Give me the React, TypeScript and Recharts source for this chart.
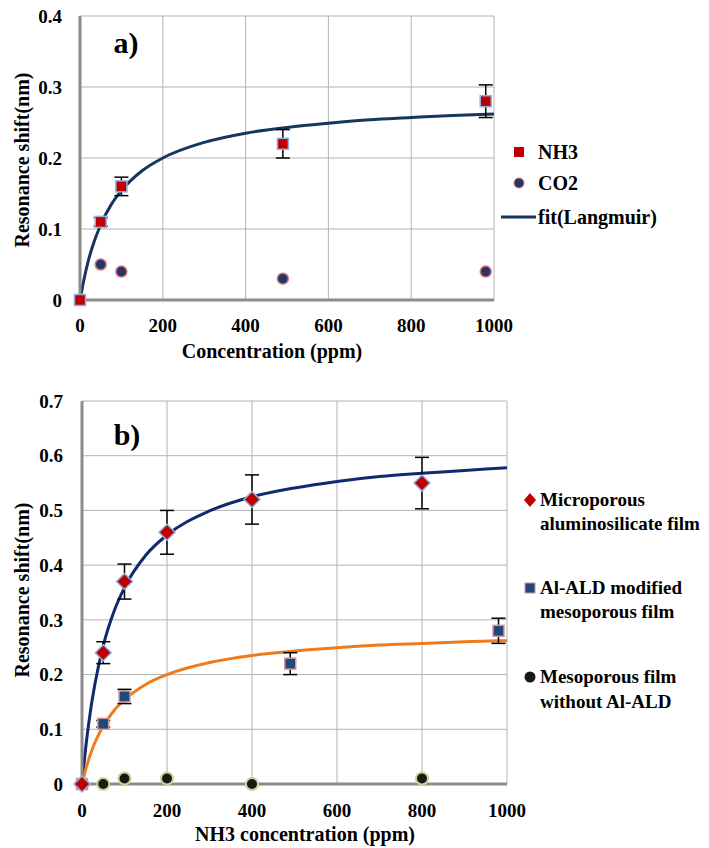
import React from 'react';
import {
  ComposedChart,
  Line,
  Scatter,
  ErrorBar,
  XAxis,
  YAxis,
  CartesianGrid,
} from 'recharts';

// panel a) NH3 vs CO2
const nh3A = [
  { x: 0, y: 0, err: null },
  { x: 50, y: 0.11, err: 0.006 },
  { x: 100, y: 0.16, err: 0.013 },
  { x: 490, y: 0.22, err: 0.02 },
  { x: 980, y: 0.28, err: 0.023 },
];
const co2A = [
  { x: 0, y: 0 },
  { x: 50, y: 0.05 },
  { x: 100, y: 0.04 },
  { x: 490, y: 0.03 },
  { x: 980, y: 0.04 },
];
// Langmuir fit
const fitA = [
  { x: 0, y: 0 },
  { x: 10, y: 0.03 },
  { x: 20, y: 0.055 },
  { x: 30, y: 0.075 },
  { x: 50, y: 0.106 },
  { x: 75, y: 0.134 },
  { x: 100, y: 0.154 },
  { x: 150, y: 0.182 },
  { x: 200, y: 0.2 },
  { x: 300, y: 0.222 },
  { x: 400, y: 0.235 },
  { x: 500, y: 0.243 },
  { x: 600, y: 0.249 },
  { x: 700, y: 0.254 },
  { x: 800, y: 0.257 },
  { x: 900, y: 0.26 },
  { x: 1000, y: 0.262 },
];

// panel b) three films
const microB = [
  { x: 0, y: 0, err: null },
  { x: 50, y: 0.24, err: 0.02 },
  { x: 100, y: 0.37, err: 0.032 },
  { x: 200, y: 0.46, err: 0.04 },
  { x: 400, y: 0.52, err: 0.045 },
  { x: 800, y: 0.55, err: 0.047 },
];
const aldB = [
  { x: 0, y: 0, err: null },
  { x: 50, y: 0.11, err: 0.006 },
  { x: 100, y: 0.16, err: 0.013 },
  { x: 490, y: 0.22, err: 0.02 },
  { x: 980, y: 0.28, err: 0.023 },
];
const mesoB = [
  { x: 0, y: 0 },
  { x: 50, y: 0 },
  { x: 100, y: 0.01 },
  { x: 200, y: 0.01 },
  { x: 400, y: 0 },
  { x: 800, y: 0.01 },
];
const fitMicroB = [
  { x: 0, y: 0 },
  { x: 10, y: 0.075 },
  { x: 20, y: 0.134 },
  { x: 30, y: 0.181 },
  { x: 50, y: 0.253 },
  { x: 75, y: 0.315 },
  { x: 100, y: 0.359 },
  { x: 150, y: 0.418 },
  { x: 200, y: 0.455 },
  { x: 300, y: 0.499 },
  { x: 400, y: 0.525 },
  { x: 500, y: 0.541 },
  { x: 600, y: 0.553 },
  { x: 700, y: 0.562 },
  { x: 800, y: 0.568 },
  { x: 900, y: 0.573 },
  { x: 1000, y: 0.578 },
];
const fitAldB = fitA;

const xTicks = [0, 200, 400, 600, 800, 1000];
const yTicksA = [0, 0.1, 0.2, 0.3, 0.4];
const yTicksB = [0, 0.1, 0.2, 0.3, 0.4, 0.5, 0.6, 0.7];

const FONT = 'Liberation Serif';
const tickStyle = { fontSize: 19, fontWeight: 'bold', fill: '#000', fontFamily: FONT };
const axisLine = { stroke: '#8c8c8c', strokeWidth: 3 };
const fmt = (v: number) => (v === 0 ? '0' : String(v));

const RedSquare = (p: any) => (
  <rect x={p.cx - 5.5} y={p.cy - 5.5} width={11} height={11} fill="#c00000" stroke="#8db3e2" strokeWidth={1.5} />
);
const NavyCircle = (p: any) => (
  <circle cx={p.cx} cy={p.cy} r={5.5} fill="#1f3864" stroke="#e0707a" strokeWidth={1.5} />
);
const RedDiamond = (p: any) => (
  <polygon
    points={`${p.cx},${p.cy - 8} ${p.cx + 8},${p.cy} ${p.cx},${p.cy + 8} ${p.cx - 8},${p.cy}`}
    fill="#c00000"
    stroke="#8db3e2"
    strokeWidth={1.5}
  />
);
const BlueSquare = (p: any) => (
  <rect x={p.cx - 5.5} y={p.cy - 5.5} width={11} height={11} fill="#1f497d" stroke="#d99694" strokeWidth={1.5} />
);
const DarkCircle = (p: any) => (
  <circle cx={p.cx} cy={p.cy} r={6} fill="#1a1a14" stroke="#c3d69b" strokeWidth={2} />
);

const abs = (left: number, top: number, extra: React.CSSProperties = {}): React.CSSProperties => ({
  position: 'absolute',
  left,
  top,
  transform: 'translate(-50%, -50%)',
  whiteSpace: 'nowrap',
  fontWeight: 'bold',
  fontFamily: FONT,
  color: '#000',
  ...extra,
});

const legendText: React.CSSProperties = {
  position: 'absolute',
  whiteSpace: 'nowrap',
  fontWeight: 'bold',
  fontFamily: FONT,
  fontSize: 20,
  lineHeight: '24px',
  color: '#000',
};

const App = () => {
  return (
    <div style={{ position: 'absolute', left: 0, top: 0, width: 709, height: 848, background: '#fff', fontFamily: FONT }}>
      {/* a) */}
      <div style={{ position: 'absolute', left: 0, top: 0 }}>
        <ComposedChart width={709} height={380} margin={{ top: 16, right: 215, bottom: 0, left: 0 }}>
          <CartesianGrid stroke="#b3b3b3" />
          <XAxis
            dataKey="x"
            type="number"
            domain={[0, 1000]}
            ticks={xTicks}
            height={80}
            tickLine={false}
            tickMargin={13}
            axisLine={axisLine}
            tick={tickStyle}
          />
          <YAxis
            dataKey="y"
            type="number"
            domain={[0, 0.4]}
            ticks={yTicksA}
            width={80}
            tickLine={false}
            tickMargin={12}
            axisLine={axisLine}
            tick={tickStyle}
            tickFormatter={fmt}
          />
          <Line data={fitA} dataKey="y" type="monotone" dot={false} stroke="#17365d" strokeWidth={3} isAnimationActive={false} />
          <Scatter data={co2A} dataKey="y" shape={NavyCircle} isAnimationActive={false} />
          <Scatter data={nh3A} dataKey="y" shape={RedSquare} isAnimationActive={false}>
            <ErrorBar dataKey="err" direction="y" width={7} stroke="#000" strokeWidth={1.5} />
          </Scatter>
        </ComposedChart>
      </div>
      <div style={abs(126, 43, { fontSize: 30 })}>a)</div>
      <div style={abs(22, 160, { fontSize: 20, transform: 'translate(-50%, -50%) rotate(-90deg)' })}>Resonance shift(nm)</div>
      <div style={abs(272, 351, { fontSize: 20 })}>Concentration (ppm)</div>

      {/* legend a */}
      <svg style={{ position: 'absolute', left: 498, top: 140 }} width={40} height={90}>
        <rect x={16} y={7} width={10} height={10} fill="#c00000" />
        <circle cx={21} cy={43} r={5} fill="#1f3864" stroke="#e0707a" strokeWidth={1} />
        <line x1={3} y1={77} x2={38} y2={77} stroke="#17365d" strokeWidth={3} />
      </svg>
      <div style={{ ...legendText, left: 538, top: 140 }}>NH3</div>
      <div style={{ ...legendText, left: 538, top: 171 }}>CO2</div>
      <div style={{ ...legendText, left: 538, top: 205 }}>fit(Langmuir)</div>

      {/* b) */}
      <div style={{ position: 'absolute', left: 0, top: 380 }}>
        <ComposedChart width={709} height={468} margin={{ top: 21, right: 202, bottom: 0, left: 0 }}>
          <CartesianGrid stroke="#b3b3b3" />
          <XAxis
            dataKey="x"
            type="number"
            domain={[0, 1000]}
            ticks={xTicks}
            height={64}
            tickLine={false}
            tickMargin={14}
            axisLine={axisLine}
            tick={tickStyle}
          />
          <YAxis
            dataKey="y"
            type="number"
            domain={[0, 0.7]}
            ticks={yTicksB}
            width={82}
            tickLine={false}
            tickMargin={13}
            axisLine={axisLine}
            tick={tickStyle}
            tickFormatter={fmt}
          />
          <Line data={fitMicroB} dataKey="y" type="monotone" dot={false} stroke="#0f2a6e" strokeWidth={3} isAnimationActive={false} />
          <Line data={fitAldB} dataKey="y" type="monotone" dot={false} stroke="#ee7b1e" strokeWidth={3} isAnimationActive={false} />
          <Scatter data={mesoB} dataKey="y" shape={DarkCircle} isAnimationActive={false} />
          <Scatter data={aldB} dataKey="y" shape={BlueSquare} isAnimationActive={false}>
            <ErrorBar dataKey="err" direction="y" width={7} stroke="#000" strokeWidth={1.5} />
          </Scatter>
          <Scatter data={microB} dataKey="y" shape={RedDiamond} isAnimationActive={false}>
            <ErrorBar dataKey="err" direction="y" width={7} stroke="#000" strokeWidth={1.5} />
          </Scatter>
        </ComposedChart>
      </div>
      <div style={abs(127, 435, { fontSize: 30 })}>b)</div>
      <div style={abs(22, 590, { fontSize: 20, transform: 'translate(-50%, -50%) rotate(-90deg)' })}>Resonance shift(nm)</div>
      <div style={abs(305, 834, { fontSize: 20 })}>NH3 concentration (ppm)</div>

      {/* legend b */}
      <svg style={{ position: 'absolute', left: 520, top: 485 }} width={20} height={205}>
        <polygon points="10,8 16,15 10,22 4,15" fill="#c00000" />
        <rect x={5} y={98} width={10} height={10} fill="#1f497d" stroke="#d99694" strokeWidth={1} />
        <circle cx={10} cy={192} r={5.5} fill="#1a1a14" />
      </svg>
      <div style={{ ...legendText, fontSize: 19, left: 540, top: 488 }}>Microporous</div>
      <div style={{ ...legendText, fontSize: 19, left: 540, top: 512 }}>aluminosilicate film</div>
      <div style={{ ...legendText, fontSize: 19, left: 540, top: 576 }}>Al-ALD modified</div>
      <div style={{ ...legendText, fontSize: 19, left: 540, top: 600 }}>mesoporous film</div>
      <div style={{ ...legendText, fontSize: 19, left: 540, top: 665 }}>Mesoporous film</div>
      <div style={{ ...legendText, fontSize: 19, left: 540, top: 690 }}>without Al-ALD</div>
    </div>
  );
};

export default App;
